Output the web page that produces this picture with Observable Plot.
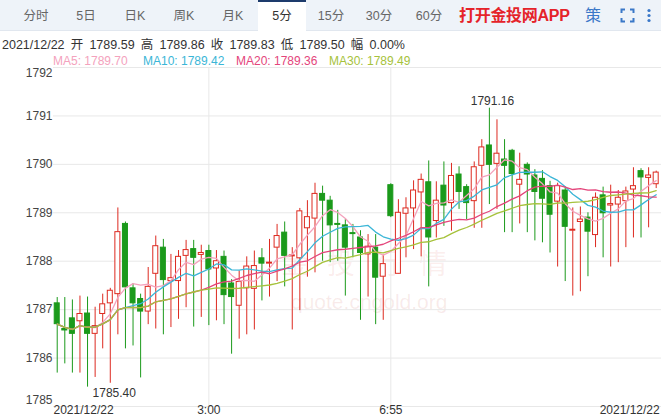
<!DOCTYPE html>
<html><head><meta charset="utf-8">
<script src="https://cdn.jsdelivr.net/npm/d3@7"></script>
<script src="https://cdn.jsdelivr.net/npm/@observablehq/plot@0.6"></script>
<style>
body{margin:0;background:#fff;font-family:"Liberation Sans","Noto Sans CJK SC",sans-serif;}
#wrap{position:relative;width:661px;height:420px;overflow:hidden;background:#fff;}
#wm{position:absolute;left:0;top:0;width:661px;height:420px;z-index:0;}
#chart{position:absolute;left:0;top:0;z-index:1;}
.ov{position:absolute;z-index:2;white-space:pre;}
#tabs{position:absolute;left:0;top:0;width:661px;height:30px;background:#eef3f9;border-bottom:1px solid #e1e7ef;z-index:2;}
.tab{position:absolute;top:0;line-height:32px;font-size:12.5px;color:#666;transform:translateX(-50%);font-family:"Liberation Sans","Noto Sans CJK SC",sans-serif;}
#sel{position:absolute;left:258px;top:0;width:48px;height:31px;background:#fff;border-top:2px solid #1d3b6c;box-sizing:border-box;}
.info{position:absolute;top:37px;left:2px;font-size:12.5px;color:#333;line-height:16px;word-spacing:2.7px;}
.leg{position:absolute;top:53px;font-size:12px;line-height:16px;}
</style>
</head><body>
<div id="wrap">
  <div id="wm">
    <div style="position:absolute;left:281px;top:244px;font-size:28px;letter-spacing:18px;color:rgba(215,80,70,0.10);font-family:'Noto Sans CJK SC';line-height:36px;">金投行情</div>
    <div style="position:absolute;left:291px;top:289px;font-size:21px;color:rgba(200,90,80,0.12);line-height:26px;">quote.cngold.org</div>
  </div>
  <div id="chart"></div>
  <div id="tabs">
    <div id="sel"></div>
  </div>
  <div id="header"></div>
</div>
<script>
// ---- data ----
const tabLabels = ["分时","5日","日K","周K","月K","5分","15分","30分","60分"];
const tabX = [36,86,135,184,233,282,331,379,429];

const open = [1787.13,1786.60,1786.82,1786.76,1786.92,1786.50,1786.91,1787.13,1787.32,1788.77,
1787.44,1787.22,1786.96,1787.74,1788.28,1787.59,1787.59,1788.11,1788.25,1788.13,
1788.21,1787.85,1788.09,1787.54,1787.08,1787.44,1787.43,1788.06,1787.95,1788.28,
1788.59,1788.10,1788.06,1788.68,1788.88,1789.39,1789.25,1788.77,1788.74,1788.58,
1788.49,1788.14,1788.28,1787.68,1789.57,1787.74,1788.98,1789.09,1789.42,1789.63,
1788.83,1789.56,1789.20,1789.79,1789.53,1789.24,1789.97,1790.39,1790.01,1790.10,
1790.28,1789.58,1789.99,1789.77,1789.70,1789.55,1789.23,1789.46,1788.63,1788.81,
1788.90,1788.54,1789.36,1789.15,1789.17,1789.24,1789.48,1789.86,1789.72,1789.59];
const high = [1787.25,1787.25,1787.20,1787.28,1787.26,1787.05,1787.32,1787.44,1789.10,1788.81,
1787.54,1787.32,1787.87,1788.52,1788.45,1788.14,1788.22,1788.43,1788.43,1788.33,
1788.33,1788.22,1788.21,1787.62,1787.80,1788.09,1788.21,1788.26,1788.45,1788.76,
1788.81,1788.28,1789.09,1789.25,1789.61,1789.55,1789.34,1789.05,1788.86,1788.76,
1788.63,1788.55,1788.55,1788.13,1789.60,1789.27,1789.31,1789.66,1789.80,1790.07,
1789.64,1790.05,1790.02,1789.95,1789.58,1790.05,1790.51,1791.16,1790.92,1790.51,
1790.31,1790.23,1790.03,1789.89,1789.87,1789.65,1789.61,1789.53,1789.10,1789.12,
1789.00,1789.41,1789.53,1789.57,1789.46,1789.53,1789.93,1789.91,1789.93,1789.86];
const low = [1785.69,1785.88,1785.69,1785.69,1785.40,1785.60,1786.19,1785.48,1786.48,1786.19,
1786.25,1785.59,1786.69,1786.60,1786.48,1786.63,1786.80,1787.04,1786.64,1786.84,
1786.67,1786.77,1786.69,1786.08,1786.39,1786.48,1786.58,1787.18,1787.26,1787.58,
1787.47,1786.58,1786.98,1787.67,1787.76,1788.00,1787.97,1788.00,1787.28,1788.07,
1786.78,1787.26,1786.69,1786.78,1788.90,1787.74,1788.07,1788.24,1788.09,1787.47,
1788.48,1788.72,1788.62,1789.07,1788.86,1788.68,1788.68,1789.17,1789.07,1788.59,
1788.59,1788.77,1788.59,1788.42,1788.38,1788.17,1787.88,1787.58,1787.28,1787.37,
1787.68,1788.28,1788.07,1787.88,1787.97,1788.28,1788.48,1788.48,1788.69,1789.50];
const close = [1786.70,1786.57,1786.50,1786.91,1786.50,1786.66,1787.11,1787.39,1788.60,1787.46,
1787.13,1786.96,1787.47,1788.31,1787.61,1787.65,1788.09,1788.23,1788.07,1788.17,
1787.83,1788.00,1787.30,1787.26,1787.57,1787.89,1787.90,1787.95,1787.97,1788.52,
1788.11,1788.12,1789.03,1788.91,1789.39,1789.25,1788.74,1788.75,1788.28,1788.56,
1788.17,1788.30,1787.66,1787.94,1788.93,1789.00,1789.09,1789.46,1789.68,1788.49,
1789.25,1789.15,1789.76,1789.43,1789.20,1789.94,1790.35,1789.99,1790.22,1789.97,
1789.80,1789.68,1789.79,1789.43,1789.29,1788.96,1789.55,1788.71,1788.65,1788.86,
1788.61,1789.31,1788.99,1789.18,1789.31,1789.44,1789.55,1789.73,1789.77,1789.83];

const maPeriods = [5, 10, 20, 30];
const maNames = ["MA5","MA10","MA20","MA30"];
const maLegendValues = [1789.70, 1789.42, 1789.36, 1789.49];
const maColors = ["#f4a2bd", "#3bb6d7", "#e4457b", "#a6c23b"];
const maLegendX = [53, 143, 236, 329];

const yTicks = [1785,1786,1787,1788,1789,1790,1791,1792];
const xTickIdx = [0, 20, 44, 79];
const xTickText = ["2021/12/22", "3:00", "6:55", "2021/12/22"];
const infoDate = "2021/12/22";
const infoChange = "0.00%";

const UP = "#dd2a20", DOWN = "#1b9a1b";

// ---- header ----
const tabs = document.getElementById("tabs");
tabLabels.forEach((t, k) => {
  const d = document.createElement("div");
  d.className = "tab"; d.style.left = tabX[k] + "px"; d.textContent = t;
  if (t === "5分") d.style.color = "#333";
  tabs.appendChild(d);
});
const app = document.createElement("div");
app.className = "tab";
app.style.cssText = "left:459px;transform:none;font-size:16px;font-weight:bold;color:#e5232a;letter-spacing:-0.3px;";
app.textContent = "打开金投网APP";
tabs.appendChild(app);
const ce = document.createElement("div");
ce.className = "tab";
ce.style.cssText = "left:585px;transform:none;font-size:16px;color:#3a78c8;";
ce.textContent = "策";
tabs.appendChild(ce);
const icons = document.createElement("div");
icons.style.cssText = "position:absolute;left:620px;top:8px;";
icons.innerHTML = '<svg width="40" height="16"><path d="M5 1.5H1.5V5M10 1.5H13.5V5M13.5 10V13.5H10M5 13.5H1.5V10" fill="none" stroke="#3a78c8" stroke-width="2"/><circle cx="29" cy="2.5" r="1.6" fill="#3a78c8"/><circle cx="29" cy="7.5" r="1.6" fill="#3a78c8"/><circle cx="29" cy="12.5" r="1.6" fill="#3a78c8"/></svg>';
tabs.appendChild(icons);

const last = open.length - 1;
const header = document.getElementById("header");
const info = document.createElement("div");
info.className = "ov info";
info.textContent = [infoDate, "开", open[last].toFixed(2), "高", high[last].toFixed(2),
  "收", close[last].toFixed(2), "低", low[last].toFixed(2), "幅", infoChange].join(" ");
header.appendChild(info);
maNames.forEach((n, k) => {
  const d = document.createElement("div");
  d.className = "ov leg"; d.style.left = maLegendX[k] + "px"; d.style.color = maColors[k];
  d.textContent = n + ": " + maLegendValues[k].toFixed(2);
  header.appendChild(d);
});

// ---- chart ----
const candles = open.map((o, i) => ({i, open: o, high: high[i], low: low[i], close: close[i]}));
const isUp = d => d.close >= d.open;
const xTicks = xTickIdx.map((i, k) => ({i, label: xTickText[k]}));

const chart = Plot.plot({
  width: 661, height: 420,
  marginTop: 67, marginBottom: 14, marginLeft: 53, marginRight: 0,
  style: {background: "transparent", fontFamily: "Liberation Sans, Noto Sans CJK SC, sans-serif", fontSize: "12px"},
  x: {type: "linear", domain: [-0.49, 79.7], axis: null},
  y: {domain: [1785, 1792], axis: null},
  color: {type: "identity"},
  marks: [
    Plot.ruleY(yTicks, {y: d => d, stroke: "#e8e8e8"}),
    Plot.ruleX(xTickIdx.slice(1, 3), {x: d => d, stroke: "#e8e8e8"}),
    Plot.text(yTicks.filter(t => t > 1785 && t < 1792), {y: d => d, text: d => String(d), frameAnchor: "left", textAnchor: "end", dx: -1, fill: "#444"}),
    Plot.text(yTicks.filter(t => t === 1792), {y: d => d, text: d => String(d), frameAnchor: "left", textAnchor: "end", dx: -1, dy: 6, fill: "#444"}),
    Plot.text(yTicks.filter(t => t === 1785), {y: d => d, text: d => String(d), frameAnchor: "left", textAnchor: "end", dx: -1, dy: -6, fill: "#444"}),
    Plot.text(xTicks.slice(0, 1), {x: "i", text: "label", frameAnchor: "bottom", dy: 7, textAnchor: "start", dx: -3.7, fill: "#333"}),
    Plot.text(xTicks.slice(1, 3), {x: "i", text: "label", frameAnchor: "bottom", dy: 7, textAnchor: "middle", fill: "#333"}),
    Plot.text(xTicks.slice(3), {x: "i", text: "label", frameAnchor: "bottom", dy: 7, textAnchor: "end", dx: 3.5, fill: "#333"}),
    Plot.ruleX(candles, {x: "i", y1: "low", y2: "high", stroke: d => isUp(d) ? UP : DOWN, strokeWidth: 1}),
    Plot.rect(candles, {
      x1: d => d.i - 0.33, x2: d => d.i + 0.33,
      y1: d => Math.min(d.open, d.close), y2: d => Math.max(d.open, d.close),
      fill: d => isUp(d) ? "#ffffff" : DOWN, stroke: d => isUp(d) ? UP : DOWN, strokeWidth: 1
    }),
    ...maPeriods.map((k, j) => Plot.lineY(candles, Plot.windowY({k, anchor: "end", reduce: "mean"}, {x: "i", y: "close", stroke: maColors[j], strokeWidth: 1.3}))),
    Plot.text(candles, Plot.selectMaxY({x: "i", y: "high", text: d => d.high.toFixed(2), lineAnchor: "bottom", dy: -3, dx: 3, textAnchor: "middle", fill: "#333"})),
    Plot.text(candles, Plot.selectMinY({x: "i", y: "low", text: d => d.low.toFixed(2), lineAnchor: "top", dy: 1, dx: 5, textAnchor: "start", fill: "#333"}))
  ]
});
document.getElementById("chart").appendChild(chart);
</script>
</body></html>
